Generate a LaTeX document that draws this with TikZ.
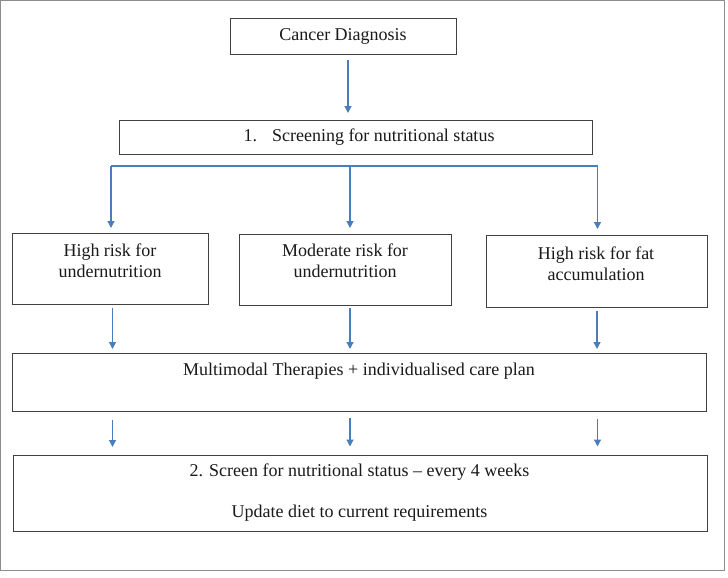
\documentclass[tikz,border=0pt]{standalone}
\usepackage{fontspec}
\setmainfont{Liberation Serif}
\usetikzlibrary{arrows.meta}
\definecolor{arrowblue}{HTML}{4A7EBB}
\definecolor{boxline}{HTML}{404040}
\definecolor{frameline}{HTML}{8C8C8C}
\definecolor{txtcol}{HTML}{1A1A1A}
\begin{document}
\begin{tikzpicture}[x=1pt,y=-1pt,
  box/.style={draw=boxline, line width=1.2pt, fill=white, inner sep=0pt, anchor=north west},
  txt/.style={text=txtcol, font=\fontsize{18}{21}\selectfont, align=center, inner sep=0pt},
  arr/.style={draw=arrowblue, line width=1.2pt, -{Triangle[width=7pt,length=7pt]}},
  bl/.style={draw=arrowblue, line width=1.2pt}]
\useasboundingbox (0,0) rectangle (728,578);
% outer frame
\draw[frameline, line width=1.3pt] (0.6,0.6) rectangle (724.5,570.5);

% boxes
\node[box, minimum width=226pt, minimum height=36pt] (cd) at (230,18) {};
\node[box, minimum width=473pt, minimum height=34pt] (sc) at (119,120) {};
\node[box, minimum width=196pt, minimum height=71pt] (hr) at (12,233) {};
\node[box, minimum width=212pt, minimum height=71pt] (mr) at (239,234) {};
\node[box, minimum width=221pt, minimum height=72pt] (hf) at (486,235) {};
\node[box, minimum width=694pt, minimum height=58pt] (mm) at (12,353) {};
\node[box, minimum width=694pt, minimum height=76pt] (sn) at (13,455) {};

% texts
\node[txt] (cdt) at (343,36) {Cancer Diagnosis};
\node[txt] (sct) at (369,137) {1.\hspace{15pt}Screening for nutritional status};
\node[txt] (hrt) at (110,260.5) {High risk for\\undernutrition};
\node[txt] (mrt) at (345,261) {Moderate risk for\\undernutrition};
\node[txt] (hft) at (596,263.5) {High risk for fat\\accumulation};
\node[txt] (mmt) at (359,371) {Multimodal Therapies + individualised care plan};
\node[txt] (snt) at (359.5,492.5) {2. Screen for nutritional status -- every 4 weeks\\[20pt]Update diet to current requirements};

% connector coordinates
\coordinate (a1s) at (348,60);
\coordinate (a1e) at (348,113);
\coordinate (bL) at (111,166);
\coordinate (bC) at (350,166);
\coordinate (bR) at (597.5,166);
\coordinate (bLe) at (111,228);
\coordinate (bCe) at (350,228);
\coordinate (bRe) at (597.5,229);
\coordinate (cLs) at (112.5,308);
\coordinate (cLe) at (112.5,349);
\coordinate (cCs) at (350,308);
\coordinate (cCe) at (350,349);
\coordinate (cRs) at (597,311);
\coordinate (cRe) at (597,349);
\coordinate (dLs) at (112.5,420);
\coordinate (dLe) at (112.5,447);
\coordinate (dCs) at (350,418);
\coordinate (dCe) at (350,446.5);
\coordinate (dRs) at (597.5,419);
\coordinate (dRe) at (597.5,446.5);

% connectors
\draw[arr] (a1s) -- (a1e);
\draw[bl] (bL) -- (bR);
\draw[arr] (bL) -- (bLe);
\draw[arr] (bC) -- (bCe);
\draw[arr] (bR) -- (bRe);
\draw[arr] (cLs) -- (cLe);
\draw[arr] (cCs) -- (cCe);
\draw[arr] (cRs) -- (cRe);
\draw[arr] (dLs) -- (dLe);
\draw[arr] (dCs) -- (dCe);
\draw[arr] (dRs) -- (dRe);
\end{tikzpicture}
\end{document}
